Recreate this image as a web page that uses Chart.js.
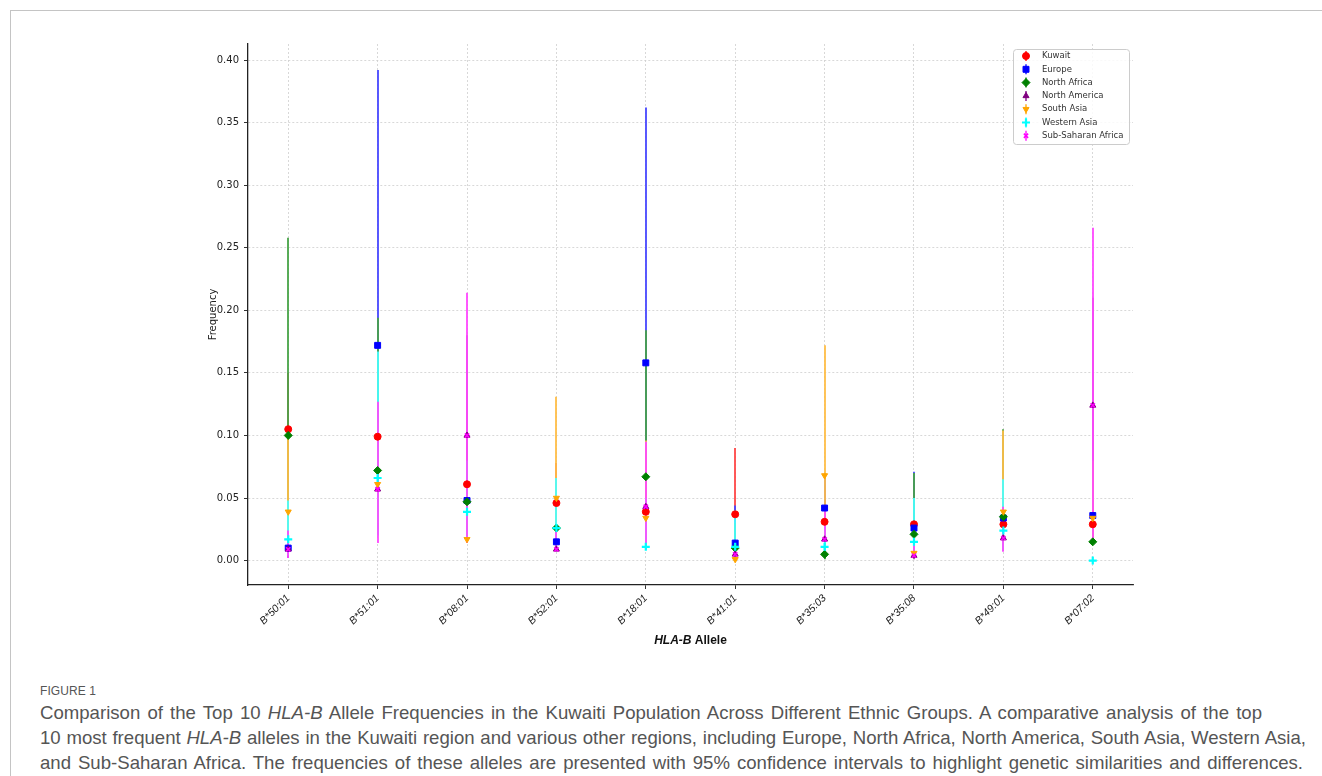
<!DOCTYPE html>
<html>
<head>
<meta charset="utf-8">
<script src="https://cdn.jsdelivr.net/npm/chart.js@4.4.1/dist/chart.umd.min.js"></script>
<style>
  html, body { margin: 0; padding: 0; background: #fff; overflow: hidden; }
  body { width: 1322px; height: 776px; position: relative; }
  #frame { position: absolute; left: 10px; top: 10px; width: 1330px; height: 800px; border: 1px solid #c4c4c4; box-sizing: border-box; }
  #wrap { position: absolute; left: 0; top: 0; width: 1322px; height: 670px; }
  #fig { position: absolute; left: 40px; top: 684px; font-family: "Liberation Sans", sans-serif; color: #555; font-size: 12px; letter-spacing: 0.1px; }
  #cap { position: absolute; left: 40px; top: 700px; font-family: "Liberation Sans", sans-serif; color: #555; font-size: 18.6px; line-height: 25px; white-space: nowrap; }
  #cap div { text-align: justify; text-align-last: justify; white-space: nowrap; }
</style>
</head>
<body>
<div id="frame"></div>
<div id="wrap"><canvas id="c" width="1322" height="670"></canvas></div>
<div id="fig">FIGURE 1</div>
<div id="cap">
<div style="width:1222px">Comparison of the Top 10 <i>HLA-B</i> Allele Frequencies in the Kuwaiti Population Across Different Ethnic Groups. A comparative analysis of the top</div>
<div style="width:1266px">10 most frequent <i>HLA-B</i> alleles in the Kuwaiti region and various other regions, including Europe, North Africa, North America, South Asia, Western Asia,</div>
<div style="width:1263px">and Sub-Saharan Africa. The frequencies of these alleles are presented with 95% confidence intervals to highlight genetic similarities and differences.</div>
</div>
<script>
const alleles = ['B*50:01','B*51:01','B*08:01','B*52:01','B*18:01','B*41:01','B*35:03','B*35:08','B*49:01','B*07:02'];
const yTicks = [0.00, 0.05, 0.10, 0.15, 0.20, 0.25, 0.30, 0.35, 0.40];

const kuwait     = [0.105, 0.099, 0.061, 0.046, 0.039, 0.037, 0.031, 0.029, 0.029, 0.029];
const kuwaitLow  = [0.062, 0.058, 0.027, 0.018, 0.014, 0.012, 0.009, 0.007, 0.008, 0.015];
const kuwaitHigh = [0.150, 0.142, 0.100, 0.078, 0.068, 0.090, 0.060, 0.060, 0.058, 0.060];

const europe     = [0.010, 0.172, 0.048, 0.015, 0.158, 0.014, 0.042, 0.026, 0.034, 0.036];
const europeLow  = [0.002, 0.040, 0.020, 0.008, 0.040, 0.004, 0.020, 0.006, 0.012, 0.016];
const europeHigh = [0.030, 0.392, 0.090, 0.030, 0.362, 0.044, 0.070, 0.071, 0.065, 0.075];

const northAfrica     = [0.100, 0.072, 0.047, 0.026, 0.067, 0.010, 0.005, 0.021, 0.035, 0.015];
const northAfricaLow  = [0.030, 0.025, 0.018, 0.008, 0.025, 0.001, 0.001, 0.004, 0.010, 0.014];
const northAfricaHigh = [0.258, 0.194, 0.100, 0.060, 0.184, 0.030, 0.020, 0.070, 0.105, 0.050];

const northAmerica     = [0.009, 0.057, 0.100, 0.009, 0.043, 0.005, 0.017, 0.004, 0.018, 0.124];
const northAmericaLow  = [0.003, 0.030, 0.040, 0.008, 0.015, 0.002, 0.005, 0.001, 0.008, 0.040];
const northAmericaHigh = [0.020, 0.100, 0.180, 0.020, 0.080, 0.009, 0.035, 0.010, 0.040, 0.210];

const southAsia     = [0.039, 0.061, 0.017, 0.050, 0.034, 0.001, 0.068, 0.006, 0.039, 0.034];
const southAsiaLow  = [0.015, 0.030, 0.014, 0.020, 0.015, 0.000, 0.020, 0.002, 0.010, 0.016];
const southAsiaHigh = [0.100, 0.110, 0.040, 0.131, 0.096, 0.005, 0.172, 0.020, 0.104, 0.080];

const westernAsia     = [0.017, 0.066, 0.039, 0.026, 0.011, 0.011, 0.011, 0.015, 0.024, 0.000];
const westernAsiaLow  = [0.004, 0.020, 0.016, 0.010, 0.009, 0.005, 0.002, 0.004, 0.008, 0.000];
const westernAsiaHigh = [0.048, 0.167, 0.080, 0.066, 0.050, 0.040, 0.030, 0.050, 0.065, 0.001];

const subSaharan     = [0.009, 0.057, 0.100, 0.009, 0.043, 0.005, 0.017, 0.004, 0.018, 0.124];
const subSaharanLow  = [0.002, 0.014, 0.014, 0.0075, 0.009, 0.003, 0.015, 0.003, 0.007, 0.014];
const subSaharanHigh = [0.024, 0.127, 0.214, 0.025, 0.095, 0.008, 0.041, 0.012, 0.043, 0.266];

const seriesDefs = [
  { label: 'Kuwait', v: kuwait, lo: kuwaitLow, hi: kuwaitHigh, rgb: [255,0,0], style: 'circle', r: 3.5, rot: 0, bw: 1 },
  { label: 'Europe', v: europe, lo: europeLow, hi: europeHigh, rgb: [0,0,255], style: 'rect', r: 4.2, rot: 0, bw: 1 },
  { label: 'North Africa', v: northAfrica, lo: northAfricaLow, hi: northAfricaHigh, rgb: [0,128,0], style: 'rectRot', r: 4, rot: 0, bw: 1 },
  { label: 'North America', v: northAmerica, lo: northAmericaLow, hi: northAmericaHigh, rgb: [128,0,128], style: 'triangle', r: 3.5, rot: 0, bw: 1 },
  { label: 'South Asia', v: southAsia, lo: southAsiaLow, hi: southAsiaHigh, rgb: [255,165,0], style: 'triangle', r: 3.5, rot: 180, bw: 1 },
  { label: 'Western Asia', v: westernAsia, lo: westernAsiaLow, hi: westernAsiaHigh, rgb: [0,255,255], style: 'cross', r: 4, rot: 0, bw: 2.2 },
  { label: 'Sub-Saharan Africa', v: subSaharan, lo: subSaharanLow, hi: subSaharanHigh, rgb: [255,0,255], style: 'crossRot', r: 3, rot: 0, bw: 1.6 }
];

const solid = c => `rgb(${c[0]},${c[1]},${c[2]})`;
const faded = c => `rgb(${c.map(v => Math.round(v * 0.72 + 255 * 0.28)).join(',')})`;

const datasets = seriesDefs.map((s, k) => ({
  label: s.label,
  data: s.v.map((y, i) => ({ x: i, y })),
  showLine: false,
  pointStyle: s.style,
  pointRotation: s.rot,
  pointRadius: s.r,
  pointHoverRadius: s.r,
  pointBackgroundColor: solid(s.rgb),
  pointBorderColor: solid(s.rgb),
  pointBorderWidth: s.bw,
  order: seriesDefs.length - 1 - k
}));

const errorBars = {
  id: 'errorBars',
  beforeDatasetsDraw(chart) {
    const { ctx, chartArea, scales: { x, y } } = chart;
    ctx.save();
    ctx.beginPath();
    ctx.rect(chartArea.left, chartArea.top, chartArea.right - chartArea.left, chartArea.bottom - chartArea.top);
    ctx.clip();
    ctx.lineWidth = 1.8;
    seriesDefs.forEach(s => {
      ctx.strokeStyle = faded(s.rgb);
      s.v.forEach((val, i) => {
        const px = Math.round(x.getPixelForValue(i));
        ctx.beginPath();
        ctx.moveTo(px, y.getPixelForValue(s.lo[i]));
        ctx.lineTo(px, y.getPixelForValue(s.hi[i]));
        ctx.stroke();
      });
    });
    ctx.restore();
  }
};

const customLegend = {
  id: 'customLegend',
  afterDraw(chart) {
    const ctx = chart.ctx;
    const bx = 1013, by = 49, bw = 116, bh = 95;
    ctx.save();
    ctx.fillStyle = 'rgba(255,255,255,0.85)';
    ctx.strokeStyle = '#cccccc';
    ctx.lineWidth = 1;
    ctx.beginPath();
    ctx.roundRect(bx + 0.5, by + 0.5, bw, bh, 3);
    ctx.fill();
    ctx.stroke();
    seriesDefs.forEach((s, k) => {
      const ly = 56 + k * 13.3;
      const lx = 1026;
      ctx.strokeStyle = faded(s.rgb);
      ctx.lineWidth = 1.8;
      ctx.beginPath();
      ctx.moveTo(lx, ly - 5);
      ctx.lineTo(lx, ly + 5);
      ctx.stroke();
      ctx.fillStyle = solid(s.rgb);
      ctx.strokeStyle = solid(s.rgb);
      ctx.lineWidth = s.bw;
      Chart.helpers.drawPoint(ctx, { pointStyle: s.style, rotation: s.rot, radius: s.r, borderWidth: s.bw }, lx, ly);
      ctx.fillStyle = '#333';
      ctx.font = '8.5px "DejaVu Sans"';
      ctx.textAlign = 'left';
      ctx.textBaseline = 'middle';
      ctx.fillText(s.label, 1042, ly);
    });
    ctx.restore();
  }
};

const xTitle = {
  id: 'xTitle',
  afterDraw(chart) {
    const ctx = chart.ctx;
    const a = chart.chartArea;
    const cx = (a.left + a.right) / 2;
    const yy = 641;
    ctx.save();
    ctx.fillStyle = '#111';
    ctx.textBaseline = 'middle';
    ctx.textAlign = 'left';
    const f1 = 'italic bold 12px "Liberation Sans", sans-serif';
    const f2 = 'bold 12px "Liberation Sans", sans-serif';
    const t1 = 'HLA-B', t2 = ' Allele';
    ctx.font = f1; const w1 = ctx.measureText(t1).width;
    ctx.font = f2; const w2 = ctx.measureText(t2).width;
    let sx = cx - (w1 + w2) / 2;
    ctx.font = f1; ctx.fillText(t1, sx, yy);
    ctx.font = f2; ctx.fillText(t2, sx + w1, yy);
    ctx.restore();
  }
};

new Chart(document.getElementById('c'), {
  type: 'scatter',
  data: { datasets },
  plugins: [errorBars, customLegend, xTitle],
  options: {
    responsive: false,
    animation: false,
    events: [],
    layout: { padding: { left: 203, right: 189, top: 44, bottom: 0 } },
    plugins: { legend: { display: false }, tooltip: { enabled: false } },
    scales: {
      x: {
        type: 'linear',
        min: -0.45,
        max: 9.45,
        afterBuildTicks: sc => { sc.ticks = alleles.map((_, i) => ({ value: i })); },
        afterFit: sc => { sc.height = 85; },
        ticks: {
          autoSkip: false,
          minRotation: 45,
          maxRotation: 45,
          padding: 3,
          color: '#222',
          font: { family: '"Liberation Sans", sans-serif', size: 10.5, style: 'italic' },
          callback: v => alleles[v]
        },
        grid: { color: '#cfcfcf', lineWidth: 0.8, tickLength: 4, tickColor: '#333', tickWidth: 1 },
        border: { display: true, color: '#222', width: 1.3, dash: [2, 2] }
      },
      y: {
        min: -0.0195,
        max: 0.4128,
        afterBuildTicks: sc => { sc.ticks = yTicks.map(v => ({ value: v })); },
        afterFit: sc => { sc.width = 45; },
        ticks: {
          padding: 5,
          color: '#222',
          font: { family: '"DejaVu Sans"', size: 10 },
          callback: v => Number(v).toFixed(2)
        },
        grid: { color: '#cfcfcf', lineWidth: 0.8, tickLength: 4, tickColor: '#333', tickWidth: 1 },
        border: { display: true, color: '#222', width: 1.3, dash: [2, 2] },
        title: { display: true, text: 'Frequency', color: '#222', font: { family: '"DejaVu Sans"', size: 10 }, padding: { top: 4, bottom: 4 } }
      }
    }
  }
});
</script>
</body>
</html>
